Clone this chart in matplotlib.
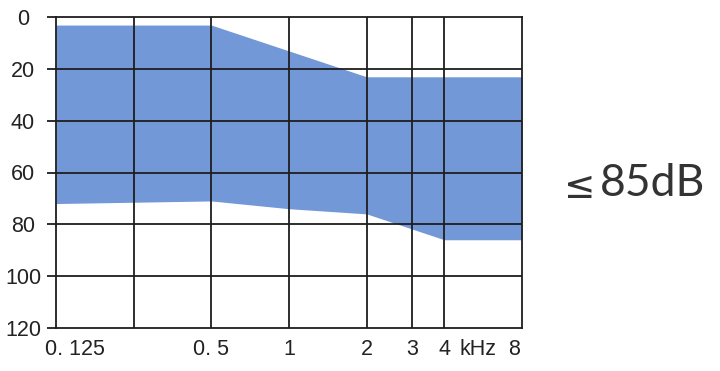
import matplotlib.pyplot as plt
from matplotlib.transforms import ScaledTranslation

plt.rcParams["font.family"] = ["Liberation Sans", "DejaVu Sans"]

# hearing range band (dB HL)
freq_khz = [0.125, 0.5, 1, 2, 4, 8]
band_top = [3, 3, 13, 23, 23, 23]
band_bottom = [72, 71, 74, 76, 86, 86]

grid_freqs = [0.125, 0.25, 0.5, 1, 2, 3, 4, 8]
freq_labels = ["0. 125", "", "0. 5", "1", "2", "3", "4", "8"]
db_ticks = [0, 20, 40, 60, 80, 100, 120]
level_sign = "\u2264"
level_value = "85dB"

band_color = "#7398d8"
line_color = "#1e1e1e"
text_color = "#222222"

fig = plt.figure(figsize=(7.2, 3.71), dpi=100)
ax = fig.add_axes([56 / 720, 1 - 327.7 / 371, 466 / 720, 310.4 / 371])

ax.fill_between(freq_khz, band_top, band_bottom, color=band_color, linewidth=0, zorder=1)

ax.set_xscale("log", base=2)
ax.set_xlim(0.125, 8)
ax.set_ylim(120, 0)

ax.set_xticks(grid_freqs)
ax.set_xticklabels(freq_labels)
ax.xaxis.set_minor_locator(plt.NullLocator())
ax.set_yticks(db_ticks)

for f in grid_freqs[1:-1]:
    ax.axvline(f, color=line_color, lw=1.3, zorder=2)
for d in db_ticks[1:-1]:
    ax.axhline(d, color=line_color, lw=1.3, zorder=2)

for s in ax.spines.values():
    s.set_linewidth(1.3)
    s.set_color(line_color)
    s.set_zorder(3)

ax.tick_params(axis="x", length=0, pad=8, labelsize=15.5, labelcolor=text_color)
ax.tick_params(axis="y", length=6.8, width=1.3, color=line_color, pad=17,
               labelsize=15.5, labelcolor=text_color)
for lab in ax.get_yticklabels():
    lab.set_horizontalalignment("center")

# nudge first and last frequency labels like the original
xlabs = ax.get_xticklabels()
xlabs[0].set_transform(xlabs[0].get_transform() + ScaledTranslation(19 / 100, 0, fig.dpi_scale_trans))
xlabs[-1].set_transform(xlabs[-1].get_transform() + ScaledTranslation(-8 / 100, 0, fig.dpi_scale_trans))

ax.text(0.906, -11 / 310.4, "kHz", transform=ax.transAxes, ha="center", va="top",
        fontsize=15.5, color=text_color)

fig.text(580 / 720, 1 - 198 / 371, level_sign, ha="center", va="baseline",
         fontsize=27, color="#333333", family=["DejaVu Sans"])
fig.text(600 / 720, 1 - 196 / 371, level_value, ha="left", va="baseline",
         fontsize=32, color="#333333", family=["Lato", "DejaVu Sans"])

fig.savefig("out.png", dpi=100)
